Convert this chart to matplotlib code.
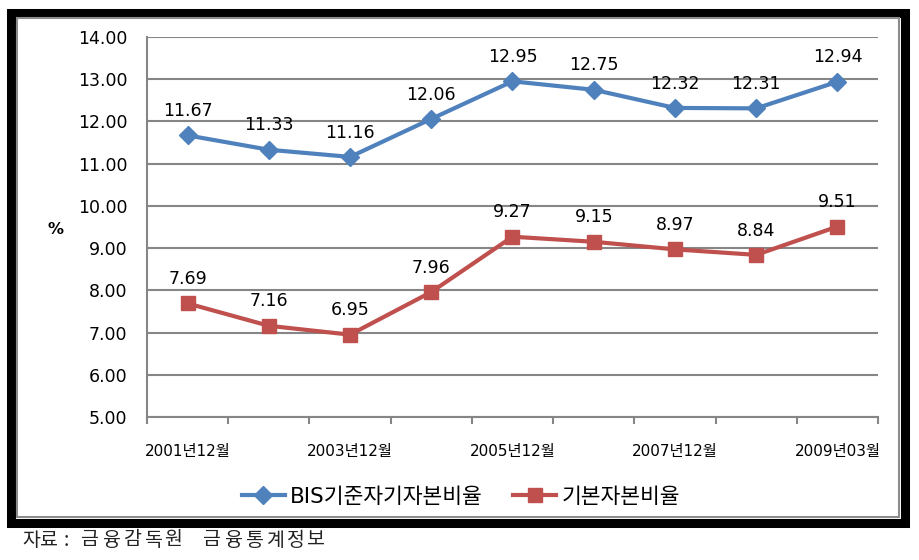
import matplotlib.pyplot as plt
from matplotlib.patches import Rectangle

plt.rcParams['font.family'] = ['DejaVu Sans', 'Noto Sans CJK KR']

periods = ['2001년12월', '2002년12월', '2003년12월', '2004년12월', '2005년12월',
           '2006년12월', '2007년12월', '2008년12월', '2009년03월']
bis = [11.67, 11.33, 11.16, 12.06, 12.95, 12.75, 12.32, 12.31, 12.94]
tier1 = [7.69, 7.16, 6.95, 7.96, 9.27, 9.15, 8.97, 8.84, 9.51]
series_names = ['BIS기준자기자본비율', '기본자본비율']
source_words = ['자료:', '금융감독원', '금융통계정보']

blue = '#4F81BD'
red = '#C0504D'
grid_c = '#868686'

fig = plt.figure(figsize=(9.2, 5.6), dpi=100)
W, H = 920, 560
ax = fig.add_axes([147 / W, 1 - 417 / H, (878 - 147) / W, (417 - 37) / H])

x = list(range(len(periods)))
ax.plot(x, bis, color=blue, lw=3, marker='D', ms=9, label=series_names[0], zorder=3)
ax.plot(x, tier1, color=red, lw=3, marker='s', ms=10.5, label=series_names[1], zorder=3)

for xs, v in zip(x, bis):
    ax.annotate(f'{v:.2f}', (xs, v), xytext=(0, 17.5), textcoords='offset points',
                ha='center', va='center', fontsize=12.5)
for xs, v in zip(x, tier1):
    ax.annotate(f'{v:.2f}', (xs, v), xytext=(0, 17.5), textcoords='offset points',
                ha='center', va='center', fontsize=12.5)

ax.set_xlim(-0.5, len(periods) - 0.5)
ax.set_ylim(5, 14)
ax.set_yticks(range(5, 15))
ax.set_yticklabels([f'{t:.2f}' for t in range(5, 15)], fontsize=12.5)
ax.yaxis.grid(True, color=grid_c, lw=1.5)
ax.set_axisbelow(True)
ax.tick_params(axis='y', length=0, pad=14)

ax.set_xticks([i + 0.5 for i in range(-1, len(periods))])
ax.set_xticklabels([])
ax.set_xticks(x[::2], minor=True)
ax.set_xticklabels(periods[::2], minor=True, fontsize=11)
ax.tick_params(axis='x', which='major', length=5, width=1.5, color=grid_c, direction='out')
ax.tick_params(axis='x', which='minor', length=0, pad=19.5)

for s in ['top', 'right']:
    ax.spines[s].set_visible(False)
for s in ['left', 'bottom']:
    ax.spines[s].set_color(grid_c)
    ax.spines[s].set_linewidth(1.5)

fig.text(56 / W, 1 - 230 / H, '%', fontsize=11.5, fontweight='bold', ha='center', va='center')

leg = fig.legend(loc='center', bbox_to_anchor=(461 / W, 1 - 497 / H), ncol=2,
                 frameon=False, fontsize=15.5, handlelength=2.0, columnspacing=1.4,
                 handletextpad=0.25)

# outer frame
fig.patches.append(Rectangle((11 / W, 1 - 522.5 / H), (905.5 - 11) / W, (522.5 - 13) / H,
                             transform=fig.transFigure, fill=False, ec='black', lw=6.5))
fig.patches.append(Rectangle((16.5 / W, 1 - 516.5 / H), (899.5 - 16.5) / W, (516.5 - 18) / H,
                             transform=fig.transFigure, fill=False, ec='#8c8c8c', lw=1.5))

# source note: loose letter spacing like the original, so place each glyph
for wx, word in zip([22, 81, 203], source_words):
    for k, ch in enumerate(word):
        adv = 18 if k < 2 and word == source_words[0] else 20.9
        fig.text((wx + k * adv) / W, 1 - 540 / H, ch, fontsize=14, va='center', ha='left',
                 family=['Noto Sans CJK KR'], color='#222222')

fig.savefig('out.png', dpi=100)
